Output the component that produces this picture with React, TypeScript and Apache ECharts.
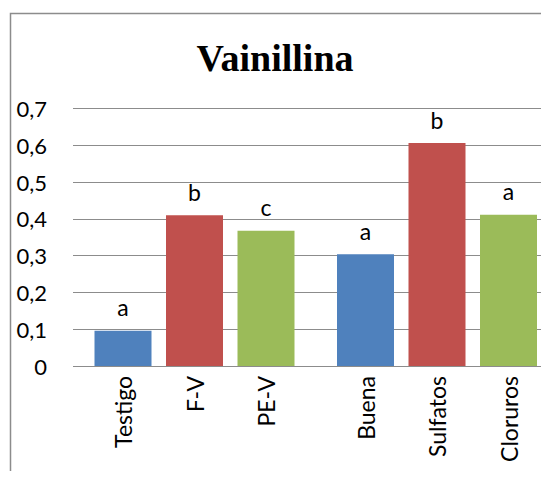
import React, { useEffect, useRef } from "react";
import * as echarts from "echarts";

// Vanillin content by treatment, two groups of three bars
const groupA = ["Testigo", "F-V", "PE-V"];
const groupB = ["Buena", "Sulfatos", "Cloruros"];
const valuesA = [0.096, 0.41, 0.368];
const valuesB = [0.304, 0.606, 0.411];
const lettersA = ["a", "b", "c"];
const lettersB = ["a", "b", "a"];
const barColors = ["#4F81BD", "#C0504D", "#9BBB59"];
const yTicks = [0, 0.1, 0.2, 0.3, 0.4, 0.5, 0.6, 0.7];

const FONT = "Lato";

export default function App() {
  const ref = useRef<HTMLDivElement>(null);

  useEffect(() => {
    if (!ref.current) return;
    const chart = echarts.init(ref.current, undefined, { renderer: "svg" });

    const top = 108.5;
    const height = 257.5;
    const catWidth = 71.5;

    const makeSeries = (
      idx: number,
      values: number[],
      letters: string[]
    ) => ({
      type: "bar",
      xAxisIndex: idx,
      yAxisIndex: idx,
      barWidth: 57,
      data: values.map((v, i) => ({
        value: v,
        itemStyle: { color: barColors[i] },
        label: { formatter: letters[i] },
      })),
      label: {
        show: true,
        position: "top",
        distance: 12,
        color: "#000",
        fontFamily: FONT,
        fontSize: 23,
      },
    });

    const catAxis = (idx: number, cats: string[]) => ({
      type: "category",
      gridIndex: idx,
      data: cats,
      axisLine: { show: false },
      axisTick: { show: false },
      axisLabel: {
        rotate: 90,
        margin: 10,
        color: "#000",
        fontFamily: FONT,
        fontSize: 23,
        interval: 0,
      },
    });

    const hiddenY = (idx: number) => ({
      type: "value",
      gridIndex: idx,
      min: 0,
      max: 0.7,
      interval: 0.1,
      show: false,
    });

    chart.setOption({
      animation: false,
      backgroundColor: "#fff",
      title: {
        text: "Vainillina",
        left: 270,
        textAlign: "center",
        top: 34,
        textStyle: {
          fontFamily: "Liberation Serif",
          fontWeight: "bold",
          fontSize: 38,
          color: "#000",
        },
      },
      graphic: [
        {
          type: "rect",
          shape: { x: 10.5, y: 13.5, width: 700, height: 700 },
          style: { fill: "none", stroke: "#8c8c8c", lineWidth: 1.5 },
          silent: true,
          z: -1,
        },
      ],
      grid: [
        { left: 73, right: 0, top, height },
        { left: 87.25, width: catWidth * 3, top, height },
        { left: 329.75, width: catWidth * 3, top, height },
      ],
      xAxis: [
        { type: "category", gridIndex: 0, data: [""], show: false },
        catAxis(1, groupA),
        catAxis(2, groupB),
      ],
      yAxis: [
        {
          type: "value",
          gridIndex: 0,
          min: 0,
          max: 0.7,
          interval: 0.1,
          axisLine: { show: false },
          axisTick: { show: false },
          splitLine: { lineStyle: { color: "#8c8c8c", width: 1.2 } },
          axisLabel: {
            margin: 26,
            color: "#000",
            fontFamily: FONT,
            fontSize: 22,
            formatter: (v: number) => {
              const t = yTicks.find((k) => Math.abs(k - v) < 1e-9);
              const n = t === undefined ? v : t;
              return n === 0 ? "0" : n.toFixed(1).replace(".", ",");
            },
          },
        },
        hiddenY(1),
        hiddenY(2),
      ],
      series: [makeSeries(1, valuesA, lettersA), makeSeries(2, valuesB, lettersB)],
    });

    return () => chart.dispose();
  }, []);

  return <div ref={ref} style={{ width: 549, height: 479, margin: -8 }} />;
}
